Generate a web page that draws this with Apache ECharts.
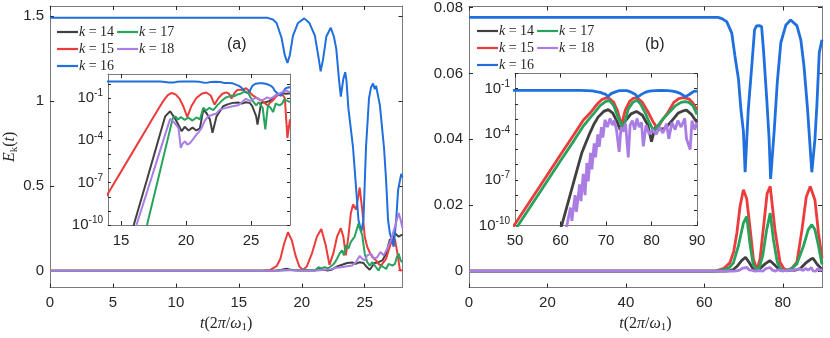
<!DOCTYPE html>
<html><head><meta charset="utf-8">
<script src="https://cdn.jsdelivr.net/npm/echarts@6/dist/echarts.min.js"></script>
<style>html,body{margin:0;padding:0;background:#fff}#c{width:830px;height:338px}</style>
</head><body><div id="c"></div>
<script>
// ---------- data ----------
const seriesNames = ['k = 14','k = 15','k = 16','k = 17','k = 18'];
const legendOrder = ['k = 14','k = 17','k = 15','k = 18','k = 16'];
const seriesColors = ['#404040','#ec3b3b','#1f6fde','#27a35b','#a97de3'];

// panel (a): [t, E_k]
const a14 = [[0,1e-14],[15,1e-13],[15.98,1e-10],[17,1.7e-7],[18,2.7e-4],[18.4,5e-3],[18.78,0.0115],[19.2,3e-3],[19.67,4.4e-4],[19.9,9e-4],[20.2,5e-4],[20.5,8e-4],[20.8,5e-4],[21.07,7e-4],[21.33,0.015],[21.6,0.008],[21.84,3e-3],[22.04,3.4e-4],[22.35,5e-3],[22.86,0.026],[23.2,0.035],[23.6,0.045],[24.0,0.048],[24.3,0.04],[24.6,0.05],[24.9,0.045],[25.1,0.026],[25.4,5e-3],[25.5,1.3e-3],[25.78,0.045],[26.1,0.05],[26.4,0.06],[26.7,0.1],[27.0,0.185],[27.2,0.17],[27.4,0.22],[27.7,0.2],[27.9,0.21],[28,0.21]];
const a15 = [[0,1e-14],[12,1.3e-11],[14,1.7e-8],[16,2.1e-5],[17,7.4e-4],[17.5,4.5e-3],[18,0.026],[18.3,0.07],[18.6,0.16],[18.9,0.226],[19.2,0.18],[19.5,0.09],[19.8,0.025],[20.1,0.0044],[20.4,0.025],[20.8,0.1],[21.2,0.2],[21.55,0.246],[21.9,0.15],[22.2,0.034],[22.5,0.1],[22.8,0.2],[23.1,0.25],[23.3,0.2],[23.5,0.09],[23.7,0.2],[23.9,0.34],[24.07,0.39],[24.3,0.36],[24.45,0.42],[24.6,0.49],[24.8,0.36],[25.0,0.2],[25.2,0.14],[25.4,0.107],[25.6,0.08],[25.9,0.06],[26.1,0.04],[26.3,0.03],[26.5,0.05],[26.7,0.07],[26.9,0.12],[27.1,0.165],[27.4,0.185],[27.6,0.1],[27.8,1.5e-4],[28,3e-3]];
const a16 = [[0,1.49],[17.3,1.49],[17.7,1.48],[18.0,1.46],[18.4,1.37],[18.65,1.27],[18.86,1.225],[19.05,1.27],[19.3,1.385],[19.7,1.46],[20.2,1.487],[20.6,1.46],[21.04,1.385],[21.3,1.27],[21.5,1.175],[21.7,1.25],[21.95,1.38],[22.3,1.432],[22.55,1.38],[22.74,1.307],[22.95,1.13],[23.1,1.026],[23.3,1.13],[23.45,1.17],[23.55,1.12],[23.7,0.958],[24.07,0.726],[24.3,0.5],[24.5,0.3],[24.73,0.23],[24.9,0.3],[25.1,0.726],[25.34,1.016],[25.5,1.08],[25.66,1.103],[25.8,1.07],[25.9,1.09],[26.2,0.977],[26.53,0.726],[26.7,0.53],[26.85,0.3],[27.0,0.22],[27.3,0.141],[27.5,0.3],[27.65,0.475],[27.9,0.57],[28,0.55]];
const a17 = [[0,1e-14],[16,1e-13],[17,1e-10],[18,6.5e-7],[18.99,3.9e-3],[19.17,5e-3],[19.4,3e-3],[19.6,4.5e-3],[19.9,2.8e-3],[20.2,4e-3],[20.5,2.5e-3],[20.8,4.2e-3],[21.07,3e-3],[21.33,0.02],[21.55,0.013],[21.8,0.02],[22.1,0.014],[22.4,0.03],[22.6,0.045],[22.8,0.07],[23.0,0.1],[23.2,0.12],[23.35,0.09],[23.5,0.15],[23.7,0.13],[23.9,0.17],[24.2,0.2],[24.5,0.277],[24.65,0.24],[24.8,0.21],[25.0,0.1],[25.2,0.05],[25.4,0.03],[25.6,0.05],[25.9,0.02],[26.1,6e-4],[26.3,0.03],[26.5,0.02],[26.7,0.01],[26.9,0.04],[27.05,0.05],[27.2,0.03],[27.4,0.04],[27.55,0.08],[27.7,0.1],[27.85,0.06],[28,0.05]];
const a18 = [[0,1e-14],[15,1e-13],[16.19,1e-10],[17,2.2e-8],[18,1.8e-5],[18.78,3.3e-3],[19.1,1.8e-3],[19.42,7.6e-4],[19.6,2.9e-5],[19.75,6e-5],[19.93,8.5e-5],[20.1,5e-5],[20.3,6.3e-5],[20.55,1.2e-4],[20.8,2.5e-4],[21.0,4e-4],[21.2,7.6e-4],[21.45,2.5e-3],[21.7,5e-3],[22.1,6.8e-3],[22.35,8e-3],[22.6,0.015],[23.1,0.02],[23.6,0.026],[24.0,0.03],[24.3,0.05],[24.6,0.087],[24.8,0.07],[25.0,0.06],[25.2,0.09],[25.5,0.1],[25.75,0.07],[26.0,0.08],[26.25,0.11],[26.5,0.09],[26.8,0.13],[27.1,0.185],[27.4,0.26],[27.55,0.3],[27.7,0.34],[27.85,0.3],[28,0.25]];

// panel (b): [t, E_k]
const b14 = [[0,1e-20],[55,1e-14],[60.26,1e-10],[62,7.6e-9],[63.5,3.2e-7],[64.65,5.6e-6],[65.5,2.5e-5],[66.5,1.3e-4],[67.4,5e-4],[68.3,1.4e-3],[69.5,0.0032],[70.5,0.0042],[71.5,0.0025],[72.5,0.0006],[73.1,0.0002],[74,0.0006],[75.5,0.0022],[76.7,0.0032],[78,0.0018],[79.2,0.0004],[80,3.3e-5],[80.8,0.0003],[81.5,2e-4],[83,2.5e-4],[84.5,8e-4],[85.8,0.0024],[87,0.0035],[87.7,0.0039],[88.8,0.002],[90,0.0006]];
const b15 = [[0,1e-20],[48,1.5e-11],[50,1.26e-10],[55,2.3e-8],[60,4.5e-6],[63,1e-4],[65,8.5e-4],[66.5,0.0025],[67.5,0.006],[68.3,0.0116],[69.1,0.0196],[69.96,0.0247],[70.8,0.022],[71.7,0.0126],[72.5,0.0037],[73.4,0.0004],[74.2,0.0037],[75.2,0.0146],[76.0,0.0235],[76.8,0.0257],[78.0,0.0126],[79.3,0.0027],[80.3,0.0007],[81.3,0.00025],[82.3,0.0008],[83.6,0.0027],[84.9,0.0126],[86.0,0.0226],[87.0,0.0257],[88.2,0.0216],[89.1,0.0116],[90,0.004]];
const b16 = [[0,0.077],[63.5,0.077],[64.5,0.0766],[65.7,0.0757],[67.0,0.0722],[67.8,0.0653],[68.7,0.0583],[69.3,0.0494],[69.96,0.0424],[70.4,0.030],[71.2,0.049],[72.1,0.0623],[72.8,0.0732],[73.3,0.0744],[74.0,0.0745],[74.6,0.0742],[75.07,0.0673],[75.9,0.0524],[76.5,0.0404],[76.9,0.028],[77.8,0.0424],[78.6,0.0573],[79.5,0.0693],[80.8,0.0747],[82.0,0.0762],[83.6,0.0745],[84.6,0.0702],[85.4,0.0623],[86.3,0.0494],[87.4,0.030],[88.2,0.040],[88.7,0.0504],[89.3,0.0663],[90,0.0702]];
const b17 = [[0,1e-20],[48,6e-12],[50,5e-11],[55,9.4e-9],[60,1.8e-6],[63,4e-5],[65,3.4e-4],[66.5,0.0012],[67.4,0.0025],[68.7,0.0077],[69.96,0.0146],[70.8,0.0166],[71.7,0.0077],[72.5,0.0017],[73.8,0.00025],[74.9,0.0047],[75.9,0.0126],[76.8,0.0176],[77.6,0.0097],[78.6,0.0027],[79.5,0.0006],[80.5,0.00016],[81.5,0.0004],[82.5,0.001],[83.6,0.0022],[85.3,0.0077],[86.5,0.0126],[87.4,0.0141],[88.2,0.0126],[89.1,0.0077],[90,0.002]];
const b18 = [[0,1e-20],[58,1e-14],[61.4,1e-10],[62.2,1.5e-9],[62.5,2e-10],[63.2,1e-8],[63.5,8e-10],[64.2,5e-8],[64.5,4e-9],[65,2.5e-7],[65.4,1e-8],[65.8,1.3e-6],[66.1,8e-8],[66.6,6e-6],[66.9,5e-7],[67.4,2.5e-5],[67.7,3e-6],[68.2,1e-4],[68.5,1.5e-5],[69,3e-4],[69.3,6e-5],[69.8,9e-4],[70.3,3e-4],[70.9,1.1e-3],[71.4,4e-4],[71.8,8e-4],[72.3,2e-4],[72.9,7e-6],[73.3,3e-4],[73.8,1.5e-4],[74.3,5e-4],[74.9,3e-6],[75.3,4e-4],[75.8,8e-4],[76.3,2e-4],[76.8,1.1e-3],[77.3,3e-4],[77.8,6e-4],[78.2,1.6e-5],[78.8,4e-4],[79.5,1e-4],[80.2,2e-4],[81,1e-4],[81.8,3e-4],[82.5,1.2e-4],[83.3,5e-4],[83.8,5e-5],[84.5,6e-4],[85.2,2e-4],[85.8,8e-4],[86.5,3e-4],[87.3,1.1e-3],[87.7,5e-5],[88.5,1e-5],[88.9,8e-4],[89.5,2e-4],[90,6e-4]];

// tick values
const aMainXTicks = [0,5,10,15,20,25];
const aMainYTicks = [0,0.5,1,1.5];
const aInsetXTicks = [15,20,25];
const bMainXTicks = [0,20,40,60,80];
const bMainYTicks = [0,0.02,0.04,0.06,0.08];
const bInsetXTicks = [50,60,70,80,90];
const logTickValues = [1e-10,1e-9,1e-8,1e-7,1e-6,1e-5,1e-4,1e-3,1e-2,1e-1,1];
const logLabelValues = [1e-10,1e-7,1e-4,1e-1];

// ---------- chart ----------
const SANS = 'Liberation Sans, Arial, sans-serif';
const SERIF = 'Liberation Serif, Times New Roman, serif';
const TXT = '#262626';
const BOX = '#7a7a7a';

function lin(v){ return String(+v.toFixed(4)); }
function sup(v){ const e = Math.round(Math.log10(v)); return '{b|10}{s|' + e + '}'; }
const supRich = { b:{fontSize:15, fontFamily:SANS, color:TXT}, s:{fontSize:10, fontFamily:SANS, color:TXT, padding:[0,0,9,0]} };

function xAx(grid, min, max, ticks, pos, showLabel, extra){
  return Object.assign({
    gridIndex:grid, type:'value', min:min, max:max, position:pos,
    axisLine:{show:true, onZero:false, lineStyle:{color:BOX, width:1}},
    axisTick:{show:true, inside:true, length:4, customValues:ticks, lineStyle:{color:TXT}},
    axisLabel:{show:showLabel, customValues:ticks, margin:8, fontSize:15, fontFamily:SANS, color:TXT, formatter:lin},
    splitLine:{show:false}
  }, extra||{});
}
function yAx(grid, min, max, ticks, pos, showLabel, extra){
  return Object.assign({
    gridIndex:grid, type:'value', min:min, max:max, position:pos,
    axisLine:{show:true, onZero:false, lineStyle:{color:BOX, width:1}},
    axisTick:{show:true, inside:true, length:4, customValues:ticks, lineStyle:{color:TXT}},
    axisLabel:{show:showLabel, customValues:ticks, margin:6, fontSize:15, fontFamily:SANS, color:TXT, formatter:lin},
    splitLine:{show:false}
  }, extra||{});
}
function yLog(grid, max, pos, showLabel){
  return {
    gridIndex:grid, type:'log', logBase:10, min:1e-10, max:max, position:pos,
    axisLine:{show:true, onZero:false, lineStyle:{color:BOX, width:1}},
    axisTick:{show:true, inside:true, length:3, customValues:logTickValues.filter(v=>v<=max), lineStyle:{color:TXT}},
    axisLabel:{show:showLabel, customValues:logLabelValues, margin:5, formatter:sup, rich:supRich},
    splitLine:{show:false}
  };
}

const xName = '{i|t}{n|(2}{i|π}{n|/}{i|ω}{sub|1}{n|)}';
const nameRich = {
  i:{fontFamily:SERIF, fontStyle:'italic', fontSize:16, color:TXT},
  n:{fontFamily:SERIF, fontSize:16, color:TXT},
  sub:{fontFamily:SERIF, fontSize:11, color:TXT, padding:[8,0,0,0]}
};
const xNameOpts = {name:xName, nameLocation:'middle', nameGap:25, nameTextStyle:{rich:nameRich}};
const yNameOpts = {name:'{i|E}{sub|k}{n|(}{i|t}{n|)}', nameLocation:'middle', nameGap:27, nameRotate:90, nameTextStyle:{rich:nameRich}};

const xAxes = [
  xAx(0, 0, 28, aMainXTicks, 'bottom', true, xNameOpts),
  xAx(0, 0, 28, aMainXTicks, 'top', false),
  xAx(1, 14, 28, aInsetXTicks, 'bottom', true),
  xAx(1, 14, 28, aInsetXTicks, 'top', false),
  xAx(2, 0, 90, bMainXTicks, 'bottom', true, xNameOpts),
  xAx(2, 0, 90, bMainXTicks, 'top', false),
  xAx(3, 50, 90, bInsetXTicks, 'bottom', true),
  xAx(3, 50, 90, bInsetXTicks, 'top', false)
];
const yAxes = [
  yAx(0, -0.1, 1.56, aMainYTicks, 'left', true, yNameOpts),
  yAx(0, -0.1, 1.56, aMainYTicks, 'right', false),
  yLog(1, 5, 'left', true),
  yLog(1, 5, 'right', false),
  yAx(2, -0.005, 0.0803, bMainYTicks, 'left', true),
  yAx(2, -0.005, 0.0803, bMainYTicks, 'right', false),
  yLog(3, 1, 'left', true),
  yLog(3, 1, 'right', false)
];

const grids = [
  {left:50, top:6, width:352.5, height:286},
  {left:108, top:74, width:182, height:151, backgroundColor:'#fff', show:true, borderWidth:0},
  {left:469, top:6, width:353, height:286},
  {left:515, top:73.5, width:182, height:152, backgroundColor:'#fff', show:true, borderWidth:0}
];

const panelA = [a14,a15,a16,a17,a18];
const panelB = [b14,b15,b16,b17,b18];
const series = [];
function addSeries(data, xi, yi, width, z){
  data.forEach((d,i)=>{
    series.push({
      name:seriesNames[i], type:'line', xAxisIndex:xi, yAxisIndex:yi, data:d,
      symbol:'none', showSymbol:false, clip:true, z:z, silent:true,
      color:seriesColors[i], lineStyle:{color:seriesColors[i], width:width}
    });
  });
}
addSeries(panelA, 0, 0, 2, 2);
addSeries(panelA, 2, 2, 2, 5);
addSeries(panelB, 4, 4, 2.8, 2);
addSeries(panelB, 6, 6, 2.8, 5);

const legendRich = {
  i:{fontFamily:SERIF, fontStyle:'italic', fontSize:14, color:TXT},
  n:{fontFamily:SERIF, fontSize:14, color:TXT}
};
function legendFmt(name){ return '{i|k}{n| = ' + name.slice(4) + '}'; }
function makeLegend(left, top){
  return {
    left:left, top:top, width:130, orient:'horizontal', padding:0,
    icon:'rect', itemWidth:21, itemHeight:2.2, itemGap:3,
    data:legendOrder, formatter:legendFmt,
    textStyle:{rich:legendRich, lineHeight:12.5, padding:[0,0,0,-4]},
    selectedMode:false
  };
}

const chart = echarts.init(document.getElementById('c'), null, {renderer:'canvas'});
chart.setOption({
  animation:false,
  backgroundColor:'#fff',
  grid:grids, xAxis:xAxes, yAxis:yAxes, series:series,
  legend:[makeLegend(57,25), makeLegend(477,24)],
  graphic:[
    {type:'text', left:227, top:37, style:{text:'(a)', font:'16px ' + SANS, fill:TXT}},
    {type:'text', left:645, top:37, style:{text:'(b)', font:'16px ' + SANS, fill:TXT}}
  ]
});
</script></body></html>
